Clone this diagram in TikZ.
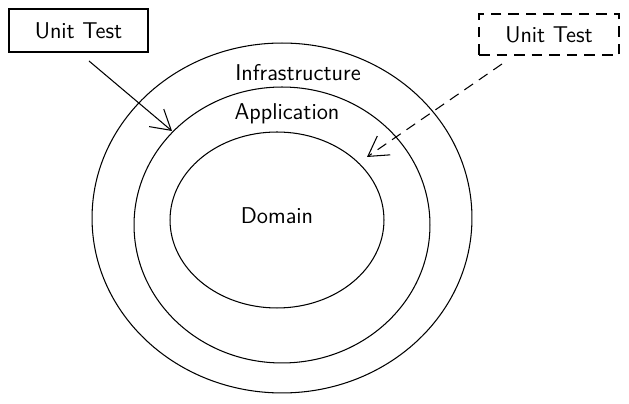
\documentclass[tikz,border=0pt]{standalone}
\usepackage{tikz}
\usetikzlibrary{shapes.geometric,arrows.meta}

\tikzset{
  layer/.style={draw, ellipse, inner sep=0pt, line width=0.6pt},
  testbox/.style={draw, rectangle, inner sep=0pt, line width=0.6pt},
  lbl/.style={font=\sffamily\fontsize{13}{15}\selectfont},
  testarrow/.style={line width=0.6pt, -{Straight Barb[length=11pt,width=13pt,line width=0.6pt]}},
}

\begin{document}
\begin{tikzpicture}[x=0.02cm, y=-0.02cm]
  \useasboundingbox (0,0) rectangle (629,404);

  % Layers
  \node[layer, minimum width=7.6cm, minimum height=7.0cm]   (infra)  at (282,218) {};
  \node[layer, minimum width=5.92cm, minimum height=5.52cm] (app)    at (282,225) {};
  \node[layer, minimum width=4.28cm, minimum height=3.52cm] (domain) at (277,220) {};

  \node[lbl] (infralbl)  at (298,73)  {Infrastructure};
  \node[lbl] (applbl)    at (287,114) {Application};
  \node[lbl] (domainlbl) at (277,216) {Domain};

  % Tests
  \node[testbox, minimum width=2.78cm, minimum height=0.86cm] (test1) at (78.5,30.5) {};
  \node[lbl] (test1lbl) at (test1) {Unit Test};
  \node[testbox, dashed, dash pattern=on 6pt off 4pt, minimum width=2.8cm, minimum height=0.82cm] (test2) at (549,34.5) {};
  \node[lbl] (test2lbl) at (test2) {Unit Test};

  \coordinate (s1) at (89,61);
  \coordinate (e1) at (172,131);
  \coordinate (s2) at (502,64);
  \coordinate (e2) at (367,157);

  \draw[testarrow] (s1) -- (e1);
  \draw[testarrow, dash pattern=on 6pt off 4pt] (s2) -- (e2);
\end{tikzpicture}
\end{document}
